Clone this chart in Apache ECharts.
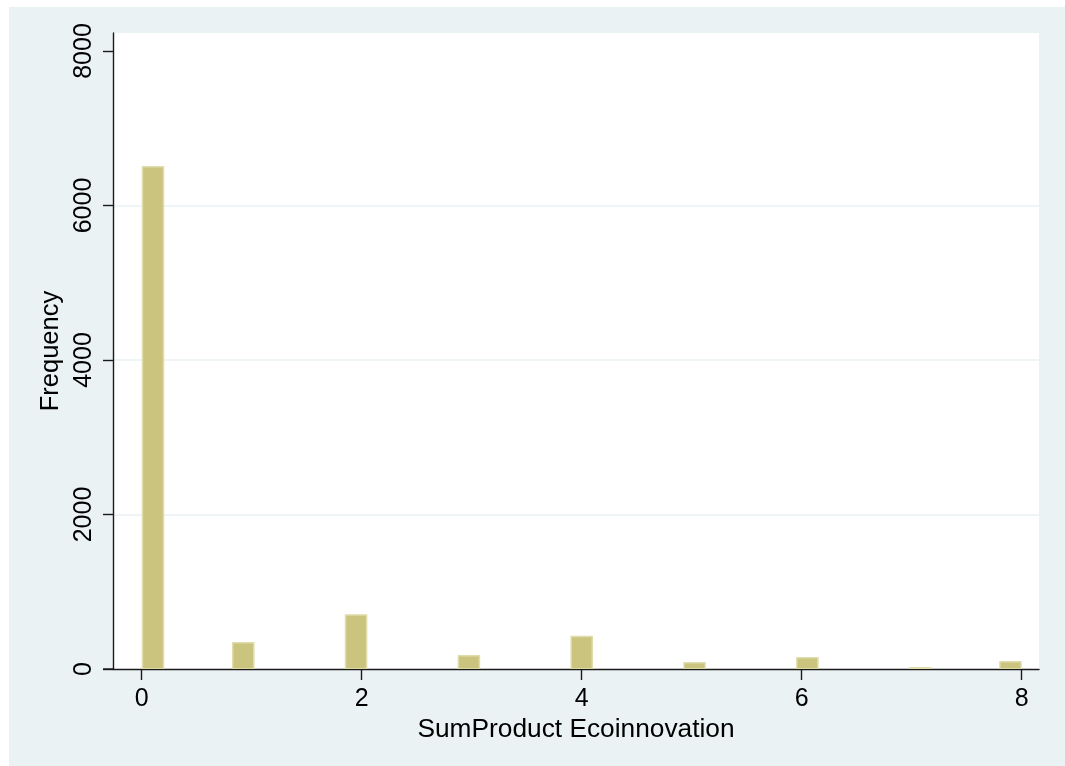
<!DOCTYPE html>
<html>
<head>
<meta charset="utf-8">
<script src="https://cdn.jsdelivr.net/npm/echarts@6/dist/echarts.min.js"></script>
<style>
  html, body { margin: 0; padding: 0; background: #ffffff; }
  #chart { width: 1065px; height: 766px; }
</style>
</head>
<body>
<div id="chart"></div>
<script>
// Observed values of SumProduct Ecoinnovation and their frequencies
const scoreValues = [0, 1, 2, 3, 4, 5, 6, 7, 8];
const frequencies = [6510, 350, 710, 180, 430, 90, 155, 26, 104];

// Histogram binning: 39 equal bins over [0, 8]
const binCount = 39;
const binStart = 0;
const binEnd = 8;

// Axis tick labels
const xTicks = [0, 2, 4, 6, 8];
const yTicks = [0, 2000, 4000, 6000, 8000];
const yGrid = [2000, 4000, 6000];

const binWidth = (binEnd - binStart) / binCount;
const bars = scoreValues.map(function (v, i) {
  const k = Math.min(binCount - 1, Math.floor((v - binStart) / binWidth));
  return [binStart + k * binWidth, binStart + (k + 1) * binWidth, frequencies[i]];
});

const FONT = '"Liberation Sans", Arial, Helvetica, sans-serif';
const BG = '#eaf2f3';
const AXIS = '#1a1a1a';
const plain = function (v) { return String(v); };

const chart = echarts.init(document.getElementById('chart'), null, { renderer: 'canvas' });

chart.setOption({
  backgroundColor: '#ffffff',
  animation: false,
  graphic: [
    { type: 'rect', z: -10, silent: true,
      shape: { x: 9, y: 7, width: 1056, height: 759 },
      style: { fill: BG } },
    { type: 'line', z: 50, silent: true,
      shape: { x1: 103, y1: 669, x2: 114, y2: 669 },
      style: { stroke: AXIS, lineWidth: 1.4 } }
  ],
  grid: {
    left: 113, right: 26, top: 33, bottom: 97,
    show: true, backgroundColor: '#ffffff', borderWidth: 0
  },
  xAxis: {
    type: 'value',
    min: -0.261, max: 8.157,
    name: 'SumProduct Ecoinnovation',
    nameLocation: 'middle',
    nameGap: 44,
    nameTextStyle: { fontFamily: FONT, fontSize: 26.3, color: '#000' },
    axisLine: { show: true, onZero: false, lineStyle: { color: AXIS, width: 1.4 } },
    axisTick: { show: true, length: 11, customValues: xTicks, lineStyle: { color: AXIS, width: 1.4 } },
    axisLabel: { customValues: xTicks, formatter: plain, margin: 18, fontFamily: FONT, fontSize: 25, color: '#000' },
    splitLine: { show: false }
  },
  yAxis: {
    type: 'value',
    min: 0, max: 8233,
    name: 'Frequency',
    nameLocation: 'middle',
    nameRotate: 90,
    nameGap: 40,
    nameTextStyle: { fontFamily: FONT, fontSize: 25.5, color: '#000' },
    axisLine: { show: true, onZero: false, lineStyle: { color: AXIS, width: 1.4 } },
    axisTick: { show: true, length: 10, customValues: yTicks, lineStyle: { color: AXIS, width: 1.4 } },
    axisLabel: { customValues: yTicks, formatter: plain, rotate: 90, margin: 16, fontFamily: FONT, fontSize: 25, color: '#000' },
    splitLine: { show: false }
  },
  series: [{
    type: 'custom',
    data: bars,
    clip: true,
    renderItem: function (params, api) {
      const p0 = api.coord([api.value(0), 0]);
      const p1 = api.coord([api.value(1), api.value(2)]);
      return {
        type: 'rect',
        shape: { x: p0[0] + 0.75, y: p1[1] + 0.75, width: p1[0] - p0[0] - 1.5, height: p0[1] - p1[1] - 0.75 },
        style: { fill: '#cbc47f', stroke: '#e0dcab', lineWidth: 1.5 }
      };
    },
    markLine: {
      silent: true,
      symbol: 'none',
      label: { show: false },
      lineStyle: { color: BG, width: 1.5, type: 'solid' },
      z: 0,
      data: yGrid.map(function (v) { return { yAxis: v }; })
    }
  }]
});
</script>
</body>
</html>
